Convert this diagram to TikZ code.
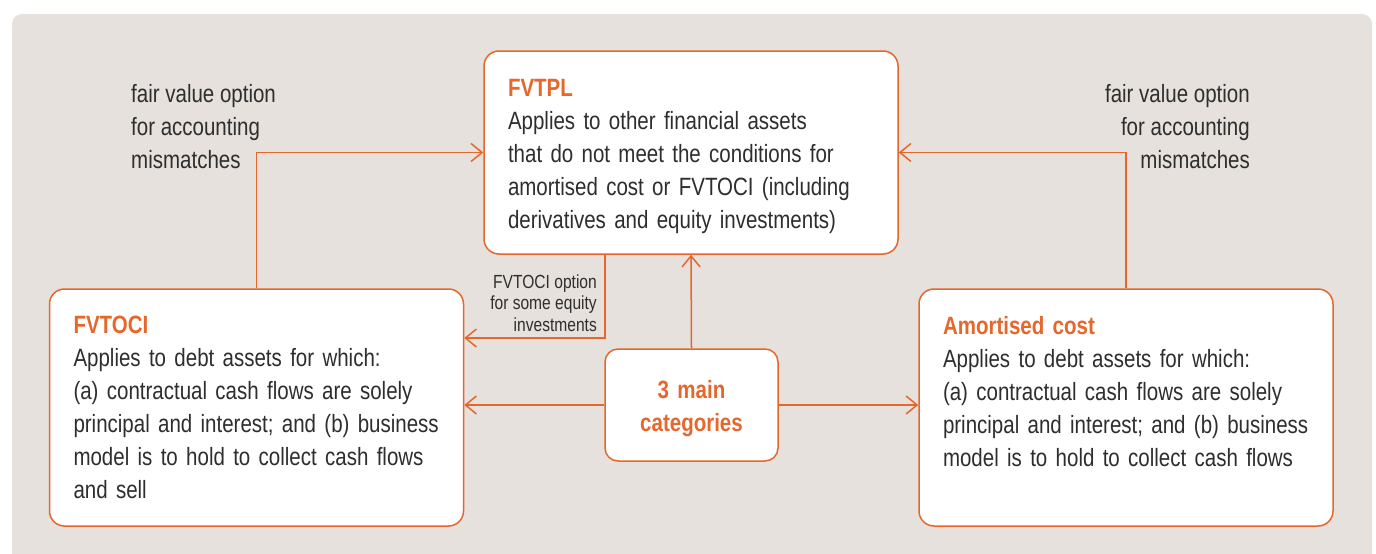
\documentclass[tikz,border=0pt]{standalone}
\usepackage{fontspec}
\setmainfont{Liberation Sans}[FakeStretch=0.82]
\usetikzlibrary{arrows.meta}
\definecolor{ifrsorange}{HTML}{E5672B}
\definecolor{panelgrey}{HTML}{E6E1DC}
\definecolor{bodygrey}{HTML}{2E2E2E}
\newcommand{\cathead}[1]{\textcolor{ifrsorange}{\textbf{#1}}}

\begin{document}
\begin{tikzpicture}[x=1pt, y=-1pt,
		catbox/.style={draw=ifrsorange, line width=1.5pt, fill=white, rounded corners=15pt,
			align=left, text width=366pt, inner xsep=24pt, inner ysep=0pt,
			text=bodygrey, font=\fontsize{25}{33}\selectfont},
		link/.style={draw=ifrsorange, line width=1.5pt, -{Straight Barb[length=11pt,width=18pt]}},
		note/.style={inner sep=0pt, text=bodygrey, font=\fontsize{25}{33}\selectfont}]
				\useasboundingbox (0,0) rectangle (1376,554);
				\fill[panelgrey, rounded corners=10pt] (12,14) rectangle (1372,580);
				% the three categories
				\node[catbox, minimum height=203pt] (fvtpl) at (691,152.5)
					{\rule{0pt}{26pt}\cathead{FVTPL}\\Applies to other financial assets\\that do not meet the conditions for\\amortised cost or FVTOCI (including\\derivatives and equity investments)};
				\node[catbox, minimum height=237pt] (fvtoci) at (256.5,407.5)
					{\cathead{FVTOCI}\\Applies to debt assets for which:\\(a) contractual cash flows are solely\\\mbox{principal and interest; and (b) business}\\model is to hold to collect cash flows\\and sell};
				\node[catbox, minimum height=237pt] (amort) at (1126,407.5)
					{\cathead{Amortised cost}\\Applies to debt assets for which:\\(a) contractual cash flows are solely\\\mbox{principal and interest; and (b) business}\\model is to hold to collect cash flows\\\mbox{}};
				\node[catbox, rounded corners=13pt, text width=125pt, align=center, minimum height=112pt,
					font=\fontsize{25}{33}\selectfont\bfseries, text=ifrsorange] (mid) at (691.5,405) {\rule{0pt}{26pt}3 main\\categories};
				% notes
				\node[note, anchor=west, align=left] (fvnotel) at (131,127) {fair value option\\for accounting\\mismatches};
				\node[note, anchor=east, align=right] (fvnoter) at (1250,127) {fair value option\\for accounting\\mismatches};
				\node[note, anchor=east, align=right, font=\fontsize{19}{21.5}\selectfont] (eqnote) at (597,303)
					{FVTOCI option\\for some equity\\investments};
				\coordinate (eqturn) at (605,338);
				% arrows
				\draw[link] (mid.north) -- (fvtpl.south);
				\draw[link] (mid.west) -- (mid.west -| fvtoci.east);
				\draw[link] (mid.east) -- (mid.east -| amort.west);
				\draw[link] (fvtoci.north) |- (fvtpl.west);
				\draw[link] (amort.north) |- (fvtpl.east);
				\draw[link] (fvtpl.south -| eqturn) -- (eqturn) -- (eqturn -| fvtoci.east);
			\end{tikzpicture}
\end{document}
